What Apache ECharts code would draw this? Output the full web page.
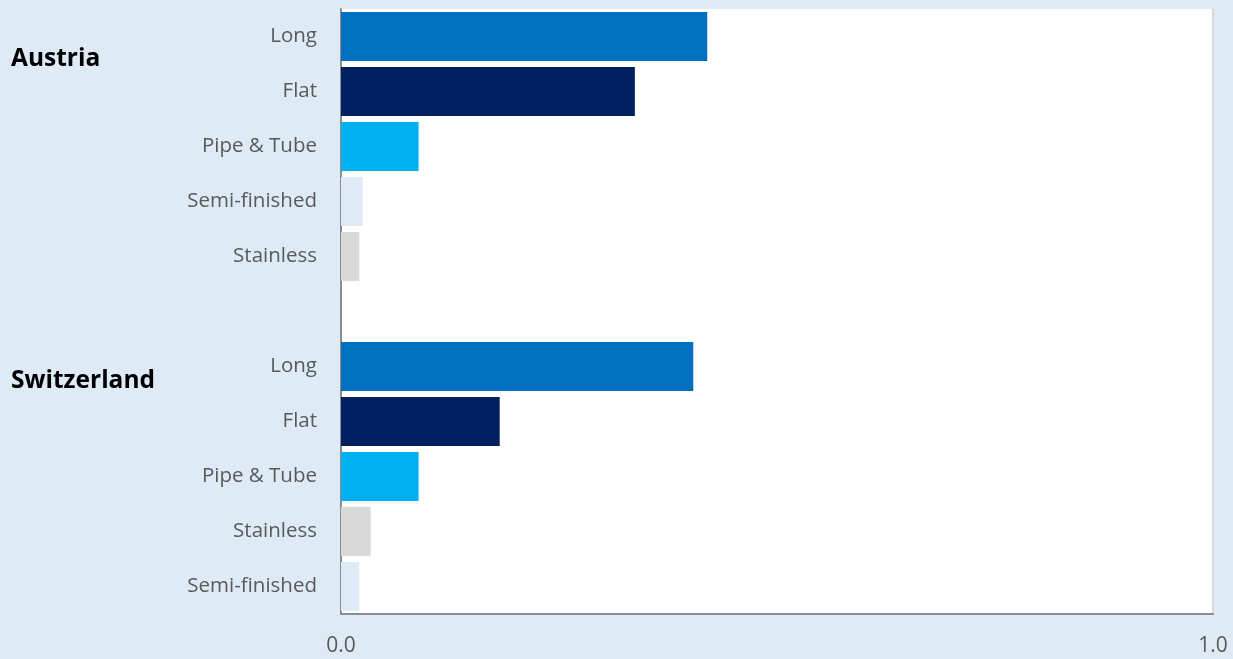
<!DOCTYPE html>
<html>
<head>
<meta charset="utf-8">
<script src="https://cdn.jsdelivr.net/npm/echarts@6/dist/echarts.min.js"></script>
<style>
  html, body { margin: 0; padding: 0; background: #deeaf6; }
  #chart { width: 1233px; height: 659px; }
</style>
</head>
<body>
<div id="chart"></div>
<script>
// data
const austriaCats = ['Long', 'Flat', 'Pipe & Tube', 'Semi-finished', 'Stainless'];
const austriaVals = [0.42, 0.337, 0.089, 0.025, 0.021];
const swissCats = ['Long', 'Flat', 'Pipe & Tube', 'Stainless', 'Semi-finished'];
const swissVals = [0.404, 0.182, 0.089, 0.034, 0.021];
const groupNames = ['Austria', 'Switzerland'];
const xTicks = [0, 1];

const productColors = {
  'Long': '#0070c0',
  'Flat': '#002060',
  'Pipe & Tube': '#00b0f0',
  'Semi-finished': '#deeaf6',
  'Stainless': '#d9d9d9'
};

// one empty slot between the two groups
const cats = austriaCats.concat([''], swissCats);
const vals = austriaVals.concat([null], swissVals);
const barData = vals.map((v, i) => ({
  value: v,
  itemStyle: { color: productColors[cats[i]] || '#fff' }
}));

const chart = echarts.init(document.getElementById('chart'));
chart.setOption({
  backgroundColor: '#deeaf6',
  animation: false,
  grid: {
    left: 341, right: 20, top: 9, bottom: 45,
    show: true, backgroundColor: '#fff', borderWidth: 0
  },
  xAxis: {
    type: 'value',
    min: xTicks[0], max: xTicks[1], interval: 1,
    axisLine: { show: true, lineStyle: { color: '#8c8c8c', width: 2 } },
    axisTick: { show: false },
    splitLine: { show: true, lineStyle: { color: '#d9d9d9', width: 2 } },
    axisLabel: {
      margin: 22, color: '#595959', fontSize: 21,
      fontFamily: 'Open Sans',
      formatter: v => v.toFixed(1)
    }
  },
  yAxis: {
    type: 'category',
    inverse: true,
    data: cats,
    axisLine: { show: true, lineStyle: { color: '#8c8c8c', width: 2 } },
    axisTick: { show: false },
    axisLabel: {
      margin: 24, color: '#595959', fontSize: 20.5,
      fontFamily: 'Open Sans', interval: 0
    }
  },
  series: [{
    type: 'bar',
    data: barData,
    barCategoryGap: '11%'
  }],
  graphic: [
    { type: 'text', left: 11, top: 47, style: { text: groupNames[0], fontSize: 24.5, fontWeight: 'bold', fill: '#000', fontFamily: 'Open Sans' } },
    { type: 'text', left: 11, top: 369, style: { text: groupNames[1], fontSize: 24.5, fontWeight: 'bold', fill: '#000', fontFamily: 'Open Sans' } }
  ]
});
</script>
</body>
</html>
